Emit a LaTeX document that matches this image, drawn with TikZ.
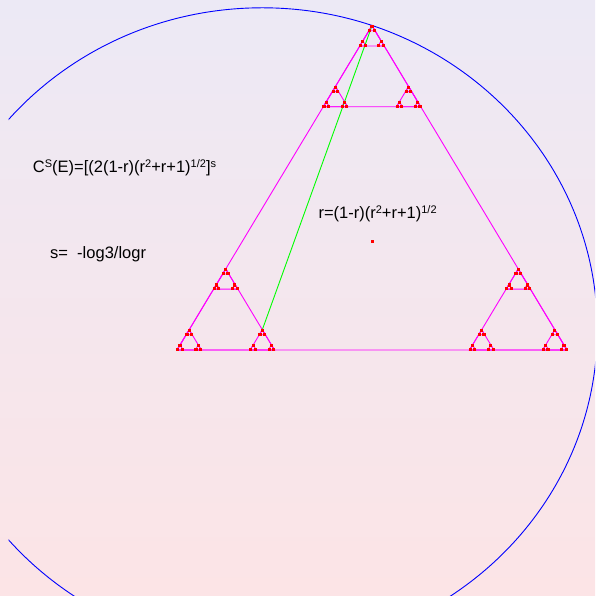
\documentclass[tikz,border=0pt]{standalone}
\usepackage{fontspec}
\setmainfont{Liberation Sans}
\definecolor{bgtop}{RGB}{236,233,245}
\definecolor{bgbot}{RGB}{252,228,230}
\definecolor{mag}{RGB}{255,0,255}
\definecolor{grn}{RGB}{0,255,0}
\definecolor{blu}{RGB}{0,0,255}
\definecolor{rd}{RGB}{255,0,0}
\newcommand\sps[1]{\raisebox{5pt}{\fontsize{11}{10}\selectfont #1}}
\newcommand\drawtri[3]{\draw[tri] (#1,#2) -- ++(#3,0) -- ++({-#3/2},{#3*0.83154}) -- cycle;}
\newcommand\dotat[2]{\fill[rd] ({#1-1.6},{#2-1.6}) rectangle ++(3.2,3.2);}
\begin{document}
\begin{tikzpicture}[x=1pt,y=1pt,
  tri/.style={draw=mag, line width=0.9pt, line join=miter},
  lbl/.style={anchor=base west, inner sep=0pt, font=\fontsize{16.5}{19}\selectfont}]
\shade[top color=bgtop, bottom color=bgbot] (0,0) rectangle (595,596);
\useasboundingbox (0,0) rectangle (595,596);
% big ellipse (circle in the squashed frame)
\begin{scope}
  \clip (8.5,0) rectangle (595,596);
  \draw[blu, line width=0.9pt] (262.3,266.3) ellipse [x radius=335, y radius=321.9];
\end{scope}
% magenta triangles, levels 0..3
\drawtri{177}{246}{390}
\foreach \ax/\ay in {0/0, 0.75/0, 0.375/0.75} {
  \pgfmathsetmacro\pAx{177+\ax*390}
  \pgfmathsetmacro\pAy{246+\ay*324.3}
  \drawtri{\pAx}{\pAy}{97.5}
  \foreach \bx/\by in {0/0, 0.75/0, 0.375/0.75} {
    \pgfmathsetmacro\pBx{\pAx+\bx*97.5}
    \pgfmathsetmacro\pBy{\pAy+\by*81.075}
    \drawtri{\pBx}{\pBy}{24.375}
    \foreach \cx/\cy in {0/0, 0.75/0, 0.375/0.75} {
      \pgfmathsetmacro\pCx{\pBx+\cx*24.375}
      \pgfmathsetmacro\pCy{\pBy+\cy*20.269}
      \drawtri{\pCx}{\pCy}{6.094}
    }
  }
}
% green segment
\coordinate (apex) at (372,570.3);
\coordinate (gend) at (262.3,266.27);
\draw[grn, line width=0.9pt] (gend) -- (apex);
% red level-4 pieces (drawn as dots)
\foreach \ax/\ay in {0/0, 0.75/0, 0.375/0.75} {
  \pgfmathsetmacro\pAx{177+\ax*390}
  \pgfmathsetmacro\pAy{246+\ay*324.3}
  \foreach \bx/\by in {0/0, 0.75/0, 0.375/0.75} {
    \pgfmathsetmacro\pBx{\pAx+\bx*97.5}
    \pgfmathsetmacro\pBy{\pAy+\by*81.075}
    \foreach \cx/\cy in {0/0, 0.75/0, 0.375/0.75} {
      \pgfmathsetmacro\pCx{\pBx+\cx*24.375}
      \pgfmathsetmacro\pCy{\pBy+\cy*20.269}
      \foreach \qx/\qy in {0/0, 0.75/0, 0.375/0.75} {
        \pgfmathsetmacro\pDx{\pCx+\qx*6.094+0.76}
        \pgfmathsetmacro\pDy{\pCy+\qy*5.067+0.42}
        \dotat{\pDx}{\pDy}
      }
    }
  }
}
% centre dot
\node[fill=rd, minimum size=3pt, inner sep=0pt] (ctr) at (372,354.1) {};
% texts
\node[lbl] (cs) at (32.7,423.7) {C\sps{S}(E)=[(2(1-r)(r\sps{2}+r+1)\sps{1/2}]\sps{s}};
\node[lbl] (sdef) at (50,337.7) {s=\ \ -log3/logr};
\node[lbl] (req) at (318.3,377.7) {r=(1-r)(r\sps{2}+r+1)\sps{1/2}};
\end{tikzpicture}
\end{document}
